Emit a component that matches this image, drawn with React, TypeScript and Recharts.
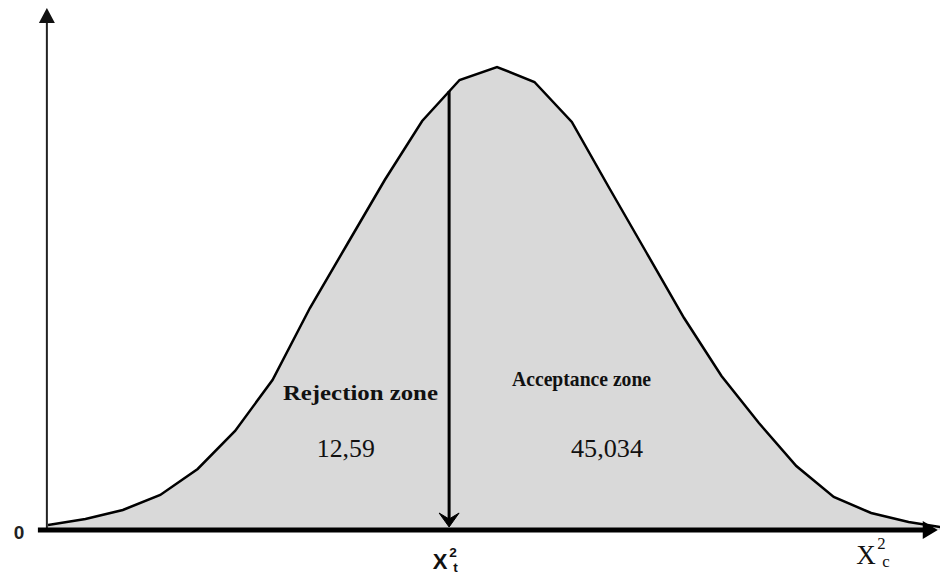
import { AreaChart, Area, XAxis, YAxis, ReferenceLine, ReferenceDot } from 'recharts';

// curve vertices (x = step index, y = height above the axis)
const positions = [0, 1, 2, 3, 4, 5, 6, 7, 8, 9, 10, 11, 12, 13, 14, 15, 16, 17, 18, 19, 20, 21, 22, 23, 24];
const density = [5, 11, 20, 35, 61, 99, 150, 222, 286, 350, 409, 450, 463, 448, 408, 342, 277, 212, 154, 107, 64, 33, 17, 8, 2];

const criticalX = 10.72;
const zoneLabels = ['Rejection zone', 'Acceptance zone'];
const zoneValues = ['12,59', '45,034'];

const data = positions.map((x, i) => ({ x, y: density[i] }));

const serif = '"Liberation Serif", "Times New Roman", serif';
const sans = '"Liberation Sans", Arial, sans-serif';

const YAxisArrow = (props: any) => {
  const { x1, y1, y2 } = props;
  const top = Math.min(y1, y2);
  const bottom = Math.max(y1, y2);
  return (
    <g>
      <line x1={x1} y1={bottom} x2={x1} y2={top + 12} stroke="#222" strokeWidth={2} />
      <polygon points={`${x1},${top} ${x1 - 8},${top + 15} ${x1 + 8},${top + 15}`} fill="#111" />
    </g>
  );
};

const XAxisArrow = (props: any) => {
  const { x1, x2, y1 } = props;
  const right = Math.max(x1, x2);
  const left = Math.min(x1, x2);
  return (
    <g>
      <line x1={left} y1={y1} x2={right - 10} y2={y1} stroke="#000" strokeWidth={5} />
      <polygon points={`${right},${y1} ${right - 15},${y1 - 9} ${right - 15},${y1 + 9}`} fill="#000" />
    </g>
  );
};

const DownArrow = (props: any) => {
  const { x1, y1, y2 } = props;
  const top = Math.min(y1, y2);
  const bottom = Math.max(y1, y2);
  return (
    <g>
      <line x1={x1} y1={top} x2={x1} y2={bottom - 8} stroke="#000" strokeWidth={3} />
      <polygon
        points={`${x1},${bottom} ${x1 - 10},${bottom - 14} ${x1},${bottom - 8} ${x1 + 10},${bottom - 14}`}
        fill="#000"
        stroke="#000"
        strokeWidth={1}
      />
    </g>
  );
};

const chiLabel = (main: string, sub: string, font: string, size: number, weight: string) => (p: any) => (
  <g fontFamily={font} fontWeight={weight} fill="#111">
    <text x={p.cx} y={p.cy} fontSize={size} textAnchor="middle">X</text>
    <text x={p.cx + size * 0.42} y={p.cy - size * 0.55} fontSize={size * 0.62}>{main}</text>
    <text x={p.cx + size * 0.6} y={p.cy + 3} fontSize={size * 0.62}>{sub}</text>
  </g>
);

const textLabel = (text: string, size: number, weight: string, length: number) => (p: any) => (
  <text
    x={p.cx}
    y={p.cy}
    fontFamily={serif}
    fontSize={size}
    fontWeight={weight}
    textAnchor="middle"
    fill="#111"
    textLength={length}
    lengthAdjust="spacingAndGlyphs"
  >
    {text}
  </text>
);

export default function App() {
  return (
    <div style={{ position: 'absolute', left: 0, top: 0, width: 940, height: 576, overflow: 'hidden', background: '#fff' }}>
      <AreaChart width={946} height={576} data={data} margin={{ top: 8, right: 0, left: 48, bottom: 46 }}>
        <XAxis dataKey="x" type="number" domain={[0, 24]} hide allowDataOverflow />
        <YAxis type="number" domain={[0, 522]} hide allowDataOverflow />
        <Area
          type="linear"
          dataKey="y"
          stroke="#000"
          strokeWidth={2.5}
          fill="#d9d9d9"
          fillOpacity={1}
          isAnimationActive={false}
        />
        <ReferenceLine segment={[{ x: -0.03, y: 0 }, { x: -0.03, y: 522 }]} ifOverflow="visible" shape={YAxisArrow} />
        <ReferenceLine segment={[{ x: -0.27, y: 0 }, { x: 23.78, y: 0 }]} ifOverflow="visible" shape={XAxisArrow} />
        <ReferenceLine segment={[{ x: criticalX, y: 439 }, { x: criticalX, y: 3 }]} ifOverflow="visible" shape={DownArrow} />

        <ReferenceDot x={8.35} y={130} r={1} ifOverflow="visible" shape={textLabel(zoneLabels[0], 22, 'bold', 155)} />
        <ReferenceDot x={14.26} y={144} r={1} ifOverflow="visible" shape={textLabel(zoneLabels[1], 22, 'bold', 139)} />
        <ReferenceDot x={7.96} y={73} r={1} ifOverflow="visible" shape={textLabel(zoneValues[0], 25, 'normal', 58)} />
        <ReferenceDot x={14.94} y={73} r={1} ifOverflow="visible" shape={textLabel(zoneValues[1], 25, 'normal', 72)} />

        <ReferenceDot
          x={-0.775}
          y={-9}
          r={1}
          ifOverflow="visible"
          shape={(p: any) => (
            <text x={p.cx} y={p.cy} fontFamily={sans} fontWeight="bold" fontSize={19} textAnchor="middle" fill="#222">0</text>
          )}
        />
        <ReferenceDot x={10.48} y={-39} r={1} ifOverflow="visible" shape={chiLabel('2', 't', sans, 22, 'bold')} />
        <ReferenceDot x={21.86} y={-34} r={1} ifOverflow="visible" shape={chiLabel('2', 'c', serif, 27, 'normal')} />
      </AreaChart>
    </div>
  );
}
